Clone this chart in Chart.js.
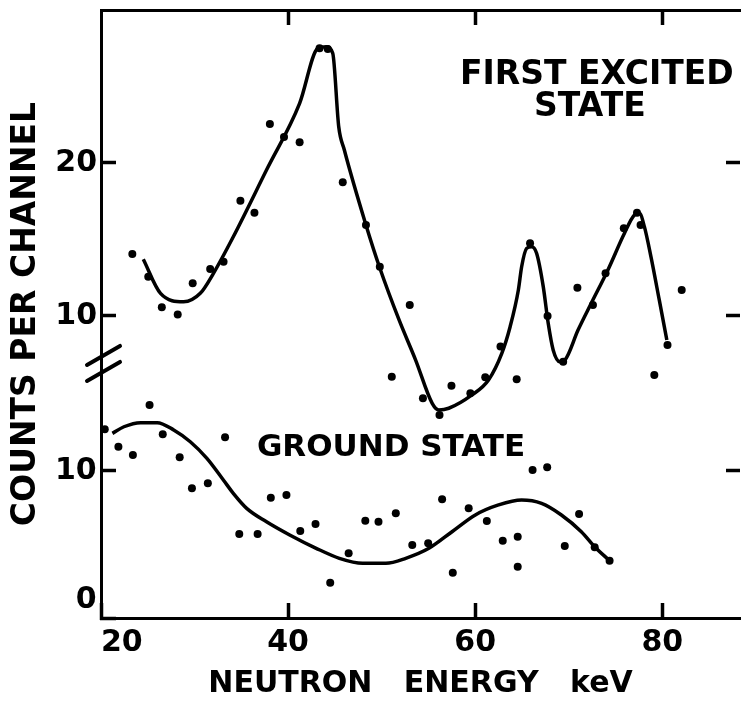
<!DOCTYPE html>
<html>
<head>
<meta charset="utf-8">
<script src="https://cdn.jsdelivr.net/npm/chart.js@4/dist/chart.umd.min.js"></script>
<style>
  html, body { margin: 0; padding: 0; background: #fff; }
  canvas { display: block; }
</style>
</head>
<body>
<canvas id="chart" width="744" height="703"></canvas>
<script>
// Tick values for the energy axis and the two offset count scales
const energyTicks = [20, 40, 60, 80];
const excitedTicks = [10, 20];
const groundTicks = [0, 10];

// First excited state: measured counts per channel
const excitedEnergy = [23.35, 25.05, 26.5, 28.2, 29.8, 31.67, 33.1, 34.9, 36.4, 38.05, 39.56, 41.23,
  43.36, 44.24, 45.84, 48.32, 49.8, 51.08, 53.0, 54.41, 56.18, 57.46, 59.48, 61.07, 62.7, 64.43,
  65.86, 67.73, 69.4, 70.92, 72.58, 73.93, 75.88, 77.29, 77.67, 79.14, 80.55, 82.07];
const excitedCounts = [14.05, 12.57, 10.57, 10.1, 12.14, 13.07, 13.55, 17.54, 16.75, 22.55, 21.7, 21.35,
  27.5, 27.45, 18.74, 15.95, 13.22, 6.03, 10.72, 4.62, 3.53, 5.44, 4.95, 5.99, 8.0, 5.86,
  14.75, 10.0, 7.01, 11.85, 10.72, 12.79, 15.73, 16.75, 15.95, 6.14, 8.1, 11.7];

// Ground state: measured counts per channel
const groundEnergy = [20.4, 21.86, 23.41, 25.19, 26.6, 28.41, 29.72, 31.42, 33.26, 34.78, 36.74, 38.15,
  39.82, 41.3, 42.93, 44.5, 46.47, 48.25, 49.66, 51.51, 53.27, 54.97, 56.46, 57.6, 59.3, 61.24,
  62.94, 64.54, 64.54, 66.13, 67.69, 69.57, 71.1, 72.77, 74.36];
const groundCounts = [12.84, 11.65, 11.09, 14.49, 12.5, 10.93, 8.82, 9.16, 12.29, 5.71, 5.71, 8.18,
  8.37, 5.92, 6.39, 2.4, 4.4, 6.62, 6.55, 7.12, 4.97, 5.08, 8.07, 3.08, 7.46, 6.6,
  5.26, 5.53, 3.49, 10.07, 10.25, 4.9, 7.07, 4.81, 3.9];

// Hand-fitted curve through the first excited state
const excitedFitEnergy = [24.52, 26.36, 28.83, 30.61, 32.02, 34.14, 37.69, 41.23, 43.18, 44.07, 44.77,
  45.41, 46.01, 48.32, 49.81, 51.86, 53.63, 55.4, 56.11, 57.17, 59.65, 61.42, 62.84, 63.73, 64.61,
  64.96, 65.49, 66.03, 66.56, 67.27, 67.8, 68.33, 69.04, 69.58, 70.99, 72.4, 74.18, 75.95, 77.01,
  77.55, 78.08, 78.78, 79.67, 80.48];
const excitedFitCounts = [13.71, 11.48, 10.93, 11.48, 12.79, 15.18, 19.54, 23.9, 27.5, 27.6, 27.17,
  22.37, 20.85, 15.95, 13.12, 9.74, 7.12, 4.29, 3.86, 3.97, 4.84, 5.82, 7.56, 9.3, 11.7,
  13.22, 14.42, 14.53, 14.1, 11.92, 9.52, 7.78, 7.01, 7.12, 9.08, 10.83, 13.01, 15.41, 16.6,
  16.71, 15.84, 13.88, 11.05, 8.43];

// Hand-fitted curve through the ground state
const groundFitEnergy = [21.22, 22.45, 24.23, 26.0, 27.77, 29.54, 31.32, 33.08, 34.14, 35.57, 37.69,
  40.17, 43.0, 45.48, 47.96, 50.45, 52.57, 55.05, 57.52, 60.01, 62.49, 64.96, 67.09, 69.21, 71.34,
  72.76, 74.36];
const groundFitCounts = [12.56, 13.01, 13.29, 13.29, 12.79, 11.99, 10.86, 9.39, 8.48, 7.46, 6.55,
  5.65, 4.74, 4.06, 3.72, 3.72, 4.06, 4.74, 5.87, 7.01, 7.69, 8.03, 7.8, 7.01, 5.87,
  4.85, 3.9];

const toPoints = (xs, ys) => xs.map((x, i) => ({ x: x, y: ys[i] }));

const INK = '#000';
const FONT = "'DejaVu Sans', 'Liberation Sans', sans-serif";
Chart.defaults.font.family = FONT;
Chart.defaults.font.weight = 'bold';
Chart.defaults.color = INK;

// Axis ranges: the two count scales share one plot area, offset from each other
const X_MIN = 20, X_MAX = 88.3;
const EXC_MIN = -9.74, EXC_MAX = 30;
const GND_MIN = 0, GND_MAX = 41.36;

const inwardTicks = (extra) => Object.assign({
  drawOnChartArea: false, drawTicks: true, tickLength: -15, tickWidth: 3.5, color: INK
}, extra || {});
const frameLine = { display: true, color: INK, width: 3 };
const setTicks = (values) => (scale) => { scale.ticks = values.map(v => ({ value: v })); };
// Fixed axis box size, without extra room reserved for overhanging labels
const fixSize = (w, h) => (scale) => {
  if (w !== null) scale.width = w;
  if (h !== null) scale.height = h;
  scale.paddingLeft = scale.paddingRight = scale.paddingTop = scale.paddingBottom = 0;
};

// Text placed on the plot, anchored in data coordinates
const notes = [
  { text: 'FIRST EXCITED', x: 73.0, y: 25.75, axis: 'yExc', size: 33 },
  { text: 'STATE', x: 72.26, y: 23.6, axis: 'yExc', size: 33 },
  { text: 'GROUND STATE', x: 51.0, y: 11.56, axis: 'yGnd', size: 31 }
];

const notesPlugin = {
  id: 'notes',
  afterDatasetsDraw(chart) {
    const ctx = chart.ctx;
    ctx.save();
    ctx.fillStyle = INK;
    ctx.textAlign = 'center';
    ctx.textBaseline = 'middle';
    notes.forEach(n => {
      ctx.font = 'bold ' + n.size + 'px ' + FONT;
      ctx.fillText(n.text, chart.scales.x.getPixelForValue(n.x), chart.scales[n.axis].getPixelForValue(n.y));
    });
    ctx.restore();
  }
};

// Two slashes across the left axis marking the break between the scales
const axisBreakPlugin = {
  id: 'axisBreak',
  afterDraw(chart) {
    const ctx = chart.ctx;
    const left = chart.chartArea.left;
    const mid = chart.scales.yExc.getPixelForValue(6.9);
    ctx.save();
    ctx.strokeStyle = INK;
    ctx.lineWidth = 4;
    ctx.lineCap = 'round';
    [-8, 8].forEach(d => {
      ctx.beginPath();
      ctx.moveTo(left - 14, mid + d + 9.5);
      ctx.lineTo(left + 19, mid + d - 9.5);
      ctx.stroke();
    });
    ctx.restore();
  }
};

const dots = (data, axis) => ({
  data: data, yAxisID: axis, xAxisID: 'x',
  pointRadius: 4, pointHoverRadius: 4, pointBackgroundColor: INK, pointBorderWidth: 0,
  showLine: false
});
const curve = (data, axis) => ({
  data: data, yAxisID: axis, xAxisID: 'x',
  showLine: true, pointRadius: 0, borderColor: INK, borderWidth: 3.5,
  cubicInterpolationMode: 'monotone', fill: false
});

new Chart(document.getElementById('chart'), {
  type: 'scatter',
  data: {
    datasets: [
      curve(toPoints(excitedFitEnergy, excitedFitCounts), 'yExc'),
      curve(toPoints(groundFitEnergy, groundFitCounts), 'yGnd'),
      dots(toPoints(excitedEnergy, excitedCounts), 'yExc'),
      dots(toPoints(groundEnergy, groundCounts), 'yGnd')
    ]
  },
  options: {
    responsive: false,
    devicePixelRatio: 1,
    animation: false,
    layout: { padding: 0 },
    plugins: { legend: { display: false }, tooltip: { enabled: false } },
    scales: {
      x: {
        type: 'linear', position: 'bottom', min: X_MIN, max: X_MAX,
        afterBuildTicks: setTicks(energyTicks.concat([X_MAX])),
        ticks: {
          align: 'inner', padding: 22, maxRotation: 0, autoSkip: false,
          font: { size: 30 },
          callback: v => energyTicks.includes(v) ? String(v) : ''
        },
        grid: inwardTicks({ tickColor: c => (c.tick && c.tick.value > 85) ? 'rgba(0,0,0,0)' : INK }),
        border: frameLine,
        title: { display: true, text: 'NEUTRON   ENERGY   keV', font: { size: 30 }, padding: { top: 0, bottom: 1 } },
        afterFit: fixSize(null, 85)
      },
      xTop: {
        type: 'linear', position: 'top', min: X_MIN, max: X_MAX,
        afterBuildTicks: setTicks([40, 60, 80]),
        ticks: { display: false },
        grid: inwardTicks(),
        border: frameLine,
        afterFit: fixSize(null, 10)
      },
      // Outer left axis: holds the excited-state labels and the axis title
      yExc: {
        type: 'linear', position: 'left', weight: 1, min: EXC_MIN, max: EXC_MAX,
        afterBuildTicks: setTicks(excitedTicks),
        ticks: { padding: 19, font: { size: 30 }, callback: v => String(v) },
        grid: inwardTicks(),
        border: frameLine,
        title: { display: true, text: 'COUNTS PER CHANNEL', font: { size: 33 }, padding: { top: 7, bottom: 0 } },
        afterFit: fixSize(101, null)
      },
      // Inner left axis of zero width: labels are mirrored back out to the left of the frame
      yGnd: {
        type: 'linear', position: 'left', weight: 0, min: GND_MIN, max: GND_MAX,
        afterBuildTicks: setTicks(groundTicks),
        ticks: {
          mirror: true, crossAlign: 'far', padding: -46, font: { size: 30 },
          callback: v => v === 0 ? ['0', ''] : String(v)
        },
        grid: inwardTicks(),
        border: frameLine,
        afterFit: fixSize(0, null)
      },
      yExcRight: {
        type: 'linear', position: 'right', min: EXC_MIN, max: EXC_MAX,
        afterBuildTicks: setTicks(excitedTicks),
        ticks: { display: false },
        grid: inwardTicks({ tickLength: -14 }),
        border: { display: false },
        afterFit: fixSize(0, null)
      },
      yGndRight: {
        type: 'linear', position: 'right', min: GND_MIN, max: GND_MAX,
        afterBuildTicks: setTicks([10]),
        ticks: { display: false },
        grid: inwardTicks({ tickLength: -14 }),
        border: { display: false },
        afterFit: fixSize(0, null)
      }
    }
  },
  plugins: [notesPlugin, axisBreakPlugin]
});
</script>
</body>
</html>
